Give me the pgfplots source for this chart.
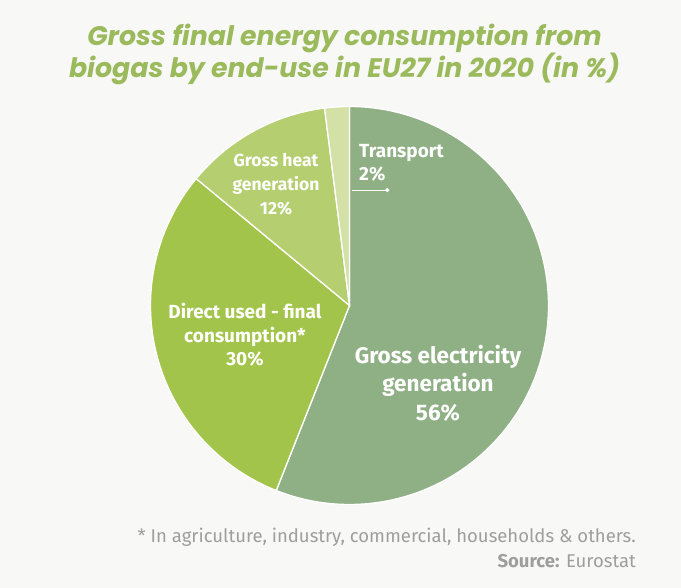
\documentclass[border=0pt]{standalone}
\usepackage{fontspec}
\setmainfont{Fira Sans}
\newfontfamily\titlefont{Poppins}
\usepackage{pgfplots}
\pgfplotsset{compat=1.18}
\usepackage{pgfplotstable}
\definecolor{bg}{HTML}{F8F8F6}
\definecolor{elec}{HTML}{8FB085}
\definecolor{direct}{HTML}{A3C44A}
\definecolor{heat}{HTML}{B4CE70}
\definecolor{transp}{HTML}{D3E1A7}
\definecolor{titlec}{HTML}{9BBA5C}
\definecolor{notec}{HTML}{9E9E9E}

% shares in % (electricity, direct use, heat, transport)
\pgfplotstableread{
share
56
30
12
2
}\sharetable
\pgfplotstablegetelem{0}{share}\of\sharetable \let\sA\pgfplotsretval
\pgfplotstablegetelem{1}{share}\of\sharetable \let\sB\pgfplotsretval
\pgfplotstablegetelem{2}{share}\of\sharetable \let\sC\pgfplotsretval
\pgfplotstablegetelem{3}{share}\of\sharetable \let\sD\pgfplotsretval
\pgfmathsetmacro{\aA}{90-3.6*\sA}
\pgfmathsetmacro{\aB}{\aA-3.6*\sB}
\pgfmathsetmacro{\aC}{\aB-3.6*\sC}
\pgfmathsetmacro{\aD}{\aC-3.6*\sD}

\begin{document}
\begin{tikzpicture}
\fill[bg] (0,0) rectangle (681pt,588pt);
\path[use as bounding box] (0,0) rectangle (681pt,588pt);
\begin{axis}[at={(349.5pt,282.5pt)}, anchor=center, scale only axis,
  width=398pt, height=398pt, xmin=-1, xmax=1, ymin=-1, ymax=1,
  hide axis, clip=false]
\addplot[fill=elec, draw=white, line width=1.3pt, domain=\aA:90, samples=150]
  ({cos(x)},{sin(x)}) -- (0,0) -- cycle;
\addplot[fill=direct, draw=white, line width=1.3pt, domain=\aB:\aA, samples=90]
  ({cos(x)},{sin(x)}) -- (0,0) -- cycle;
\addplot[fill=heat, draw=white, line width=1.3pt, domain=\aC:\aB, samples=50]
  ({cos(x)},{sin(x)}) -- (0,0) -- cycle;
\addplot[fill=transp, draw=white, line width=1.3pt, domain=\aD:\aC, samples=20]
  ({cos(x)},{sin(x)}) -- (0,0) -- cycle;
\addplot[white, line width=1pt, mark=none] coordinates {(0.013,0.58) (0.19,0.58)};
\addplot[white, only marks, mark=*, mark size=1.9pt] coordinates {(0.19,0.58)};
\end{axis}
% labels
\node[anchor=west, inner sep=0pt, align=left, text=white, font=\bfseries\fontsize{19}{23}\selectfont]
  at (359pt,425pt) {Transport\\2\%};
\node[align=center, text=white, font=\bfseries\fontsize{17.5}{24}\selectfont]
  at (276pt,404pt) {Gross heat\\generation\\12\%};
\node[align=center, text=white, font=\bfseries\fontsize{19}{23.5}\selectfont]
  at (245pt,253pt) {Direct used - final\\consumption*\\30\%};
\node[align=center, text=white, font=\bfseries\fontsize{22.5}{28.5}\selectfont]
  at (438pt,205pt) {Gross electricity\\generation\\56\%};
% title
\node[align=center, text=titlec, font=\titlefont\bfseries\itshape\fontsize{26.8}{32}\selectfont]
  at (344.5pt,534pt) {Gross final energy consumption from\\biogas by end-use in EU27 in 2020 (in \%)};
% notes
\node[anchor=east, inner sep=0pt, text=notec, font=\fontsize{18.5}{20}\selectfont]
  at (636pt,51pt) {* In agriculture, industry, commercial, households \& others.};
\node[anchor=east, inner sep=0pt, text=notec, font=\fontsize{18.5}{20}\selectfont]
  at (636pt,27pt) {\textbf{Source:} Eurostat};
\end{tikzpicture}
\end{document}
